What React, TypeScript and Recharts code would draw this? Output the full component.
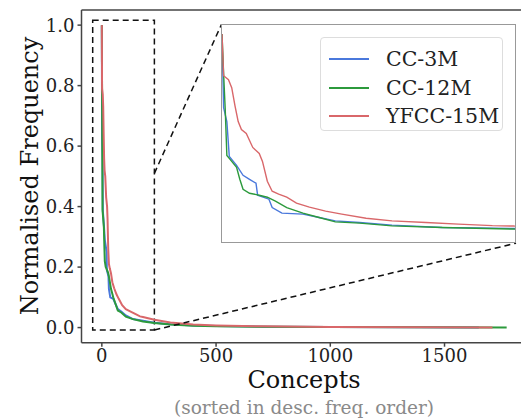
import React from "react"
import {
  LineChart,
  Line,
  XAxis,
  YAxis,
  ReferenceArea,
  ReferenceLine,
} from "recharts"

// concept rank (sorted by frequency) and normalised frequency per dataset
const cc3mRank = [0, 1, 3, 4.5, 6, 9, 13, 17, 21, 22, 29, 31, 37, 50, 60, 70, 85, 105, 136, 180, 230, 300, 400, 500, 700, 1000, 1400, 1650]
const cc3mFreq = [1.0, 0.63, 0.56, 0.385, 0.37, 0.34, 0.29, 0.27, 0.25, 0.19, 0.17, 0.128, 0.1, 0.095, 0.078, 0.061, 0.053, 0.04, 0.028, 0.023, 0.016, 0.011, 0.007, 0.005, 0.003, 0.0015, 0.0008, 0.0005]

const cc12mRank = [0, 1, 2, 3, 5, 9, 11, 13, 17, 23, 28, 33, 40, 50, 60, 70, 85, 105, 136, 180, 230, 300, 400, 500, 700, 1000, 1400, 1772]
const cc12mFreq = [1.0, 0.8, 0.62, 0.39, 0.37, 0.33, 0.27, 0.22, 0.2, 0.19, 0.18, 0.16, 0.128, 0.1, 0.078, 0.056, 0.05, 0.036, 0.028, 0.02, 0.015, 0.01, 0.006, 0.004, 0.0025, 0.0015, 0.0008, 0.0005]

const yfccRank = [0, 1, 4, 6, 8, 10, 12, 15, 19, 23, 25, 28, 31, 35, 40, 46, 54, 64, 74, 89, 105, 126, 146, 167, 180, 230, 300, 400, 500, 700, 1000, 1400, 1710]
const yfccFreq = [1.0, 0.79, 0.77, 0.73, 0.64, 0.56, 0.52, 0.5, 0.43, 0.4, 0.36, 0.26, 0.21, 0.195, 0.18, 0.15, 0.13, 0.11, 0.095, 0.074, 0.061, 0.053, 0.045, 0.037, 0.035, 0.026, 0.017, 0.01, 0.007, 0.004, 0.002, 0.001, 0.0005]

const mainXTicks = [0, 500, 1000, 1500]
const mainYTicks = [0, 0.2, 0.4, 0.6, 0.8, 1.0]
const insetXTicks = [0, 50, 100, 150]
const insetYTicks = [0, 0.2, 0.4, 0.6, 0.8, 1.0]

const toPoints = (ranks: number[], freqs: number[]) =>
  ranks.map((rank, i) => ({ rank, freq: freqs[i] }))

const series = [
  { name: "CC-3M", color: "#4a78dc", points: toPoints(cc3mRank, cc3mFreq) },
  { name: "CC-12M", color: "#2c9a3c", points: toPoints(cc12mRank, cc12mFreq) },
  { name: "YFCC-15M", color: "#d9676a", points: toPoints(yfccRank, yfccFreq) },
]

const FONT = "'DejaVu Serif', serif"
const AXIS = "#444"

function InsetXTick({ x, y }: any) {
  return <line x1={x} y1={y} x2={x} y2={y - 3} stroke="#888" strokeWidth={1} />
}

function InsetYTick({ x, y }: any) {
  return <line x1={x} y1={y} x2={x + 3} y2={y} stroke="#888" strokeWidth={1} />
}

export default function App() {
  return (
    <div
      style={{
        position: "fixed",
        left: 0,
        top: 0,
        width: 521,
        height: 419,
        overflow: "hidden",
        background: "#fff",
        fontFamily: FONT,
      }}
    >
      <LineChart width={527} height={419} margin={{ top: 10, right: 0, bottom: 0, left: 0 }}>
        <XAxis
          type="number"
          dataKey="rank"
          domain={[-89, 1861]}
          ticks={mainXTicks}
          allowDataOverflow
          height={76.3}
          stroke={AXIS}
          strokeWidth={1.5}
          tickSize={4}
          tickMargin={3}
          tick={{ fill: "#222", fontSize: 18, fontFamily: FONT }}
        />
        <YAxis
          type="number"
          domain={[-0.05, 1.05]}
          ticks={mainYTicks}
          allowDataOverflow
          width={81.5}
          stroke={AXIS}
          strokeWidth={1.5}
          tickSize={4}
          tickMargin={3}
          tickFormatter={(v: number) => v.toFixed(1)}
          tick={{ fill: "#222", fontSize: 18, fontFamily: FONT }}
        />
        <ReferenceLine y={1.05} stroke={AXIS} strokeWidth={1.5} />
        {series.map((s) => (
          <Line
            key={s.name}
            data={s.points}
            dataKey="freq"
            stroke={s.color}
            strokeWidth={2}
            dot={false}
            type="linear"
            isAnimationActive={false}
          />
        ))}
        <ReferenceArea
          x1={-40}
          x2={230}
          y1={-0.008}
          y2={1.016}
          fill="none"
          fillOpacity={0}
          stroke="#111"
          strokeWidth={1.5}
          strokeDasharray="6 4"
        />
        <ReferenceLine
          segment={[{ x: 230, y: 0.51 }, { x: 524, y: 1.003 }]}
          stroke="#111"
          strokeWidth={1.5}
          strokeDasharray="6 4"
        />
        <ReferenceLine
          segment={[{ x: 230, y: -0.008 }, { x: 1813, y: 0.279 }]}
          stroke="#111"
          strokeWidth={1.5}
          strokeDasharray="6 4"
        />
      </LineChart>

      <div
        style={{
          position: "absolute",
          left: 6,
          top: 176,
          transform: "translate(-0%, -50%) rotate(-90deg)",
          transformOrigin: "center",
          width: 48,
          textAlign: "center",
          whiteSpace: "nowrap",
          display: "flex",
          justifyContent: "center",
          fontSize: 24,
          color: "#111",
        }}
      >
        Normalised Frequency
      </div>
      <div
        style={{
          position: "absolute",
          left: 204,
          width: 200,
          top: 366,
          textAlign: "center",
          fontSize: 24,
          color: "#111",
        }}
      >
        Concepts
      </div>
      <div
        style={{
          position: "absolute",
          left: 104,
          width: 400,
          top: 397,
          textAlign: "center",
          fontSize: 18.5,
          color: "#8a8a8a",
          whiteSpace: "nowrap",
        }}
      >
        (sorted in desc. freq. order)
      </div>

      <div
        style={{
          position: "absolute",
          left: 221,
          top: 24,
          width: 295,
          height: 219,
          border: "1px solid #999",
          boxSizing: "border-box",
          background: "#fff",
        }}
      >
        <LineChart width={293} height={217} margin={{ top: 0, right: 0, bottom: 0, left: 0 }}>
          <XAxis
            type="number"
            dataKey="rank"
            domain={[0, 181]}
            ticks={insetXTicks}
            allowDataOverflow
            height={0}
            axisLine={false}
            tickLine={false}
            tickSize={0}
            tickMargin={0}
            tick={<InsetXTick />}
          />
          <YAxis
            type="number"
            domain={[-0.045, 1.045]}
            ticks={insetYTicks}
            allowDataOverflow
            width={0}
            axisLine={false}
            tickLine={false}
            tickSize={0}
            tickMargin={0}
            tick={<InsetYTick />}
          />
          {series.map((s) => (
            <Line
              key={s.name}
              data={s.points}
              dataKey="freq"
              stroke={s.color}
              strokeWidth={1.4}
              dot={false}
              type="linear"
              isAnimationActive={false}
            />
          ))}
        </LineChart>
        <div
          style={{
            position: "absolute",
            left: 98,
            top: 12,
            width: 183,
            height: 94,
            border: "1px solid #ddd",
            borderRadius: 4,
            boxSizing: "border-box",
            background: "rgba(255,255,255,0.8)",
          }}
        >
          {series.map((s, i) => (
            <div
              key={s.name}
              style={{
                position: "absolute",
                left: 8,
                top: 6 + i * 28.5,
                height: 30,
                display: "flex",
                alignItems: "center",
                whiteSpace: "nowrap",
              }}
            >
              <span style={{ display: "inline-block", width: 40, height: 2, background: s.color }} />
              <span style={{ marginLeft: 17, fontSize: 20.5, color: "#222" }}>{s.name}</span>
            </div>
          ))}
        </div>
      </div>
    </div>
  )
}
